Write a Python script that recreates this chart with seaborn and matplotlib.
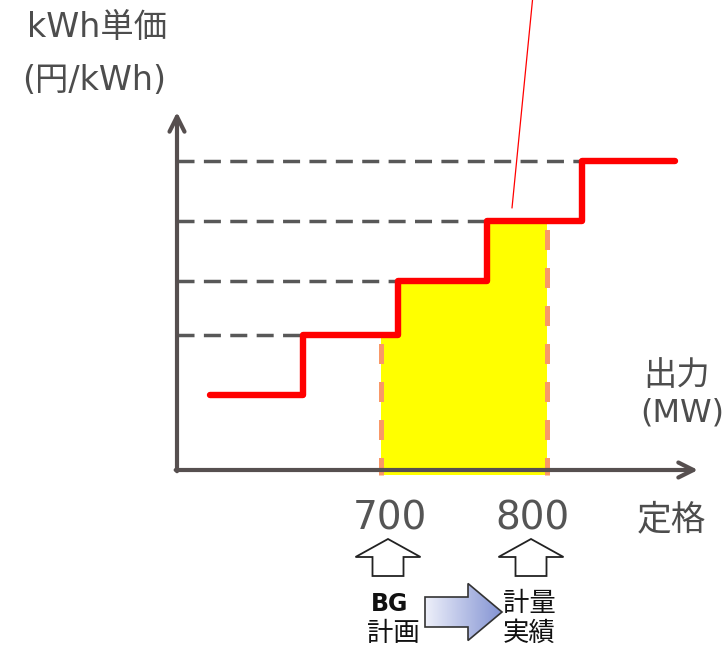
import numpy as np
import matplotlib
matplotlib.use("Agg")
import matplotlib.pyplot as plt
from matplotlib.patches import FancyArrow
import seaborn as sns

# Supply curve: output breakpoints (MW) and the unit price of each band
step_mw = [597, 653, 710, 764, 821, 877]
unit_price = [1.25, 2.25, 3.15, 4.15, 5.15]
plan_mw = 700      # BG plan
actual_mw = 800    # metered result
tick_labels = ["700", "800"]

sns.set_theme(style="white")
plt.rcParams["font.family"] = ["DejaVu Sans", "Noto Sans CJK JP"]

W, H = 728, 651
fig = plt.figure(figsize=(W / 100, H / 100), dpi=100)
ax = fig.add_axes([0, 0, 1, 1])
ax.set_axis_off()

# pixel-like frame: 1.66 px per MW, 60 px per price unit
MW_PER_PX = 1 / 1.66
PRICE_PER_PX = 1 / 60
X0_PX, Y0_PX = 381, 470
def to_data(px, py):
    return plan_mw + (px - X0_PX) * MW_PER_PX, (Y0_PX - py) * PRICE_PER_PX

xmin, ymax = to_data(0, 0)
xmax, ymin = to_data(W, H)
ax.set_xlim(xmin, xmax)
ax.set_ylim(ymin, ymax)

axis_x0 = to_data(177, 0)[0]
axis_col = "#564f4f"
guide_col = "#585858"

def price_at(mw):
    i = np.searchsorted(step_mw, mw, side="right") - 1
    return unit_price[min(max(i, 0), len(unit_price) - 1)]

# yellow area between plan and metered output
fill_x = [plan_mw] + [b for b in step_mw if plan_mw < b < actual_mw] + [actual_mw]
fill_y = [price_at(x) for x in fill_x]
ax.fill_between(fill_x, -0.08, fill_y, step="post", color="#ffff00", lw=0, zorder=1)

# horizontal dashed guides from the price axis to each step
for i in range(1, len(unit_price)):
    ax.plot([axis_x0, step_mw[i]], [unit_price[i]] * 2, color=guide_col, lw=2.5,
            linestyle=(0, (4.9, 2.7)), zorder=2)

# salmon dashed verticals at plan and metered output
for mw in (plan_mw, actual_mw):
    ax.plot([mw, mw], [-0.08, price_at(mw) - 0.05], color="#f99868", lw=3.6,
            linestyle=(0.5, (4.0, 3.6)), zorder=3)

# step curve
curve_x = step_mw
curve_y = unit_price + [unit_price[-1]]
sns.lineplot(x=curve_x, y=curve_y, drawstyle="steps-post", color="#ff0000",
             linewidth=4.6, sort=False, estimator=None, ax=ax, zorder=4)

# leader line going off the top
lx0, ly0 = to_data(512, 208)
lx1, ly1 = to_data(533, -5)
ax.plot([lx0, lx1], [ly0, ly1], color="#ff0000", lw=0.9, zorder=4)

# axes with open arrow heads
ytip = to_data(177, 112)[1]
xtip = to_data(698, 470)[0]
head = dict(arrowstyle="->,head_length=0.9,head_width=0.45",
            lw=3, color=axis_col, shrinkA=0, shrinkB=0)
ax.annotate("", xy=(axis_x0, ytip), xytext=(axis_x0, -0.02), arrowprops=head, zorder=5)
ax.annotate("", xy=(xtip, 0), xytext=(axis_x0 - 0.8, 0), arrowprops=head, zorder=5)

# text labels
def ptext(px, py, s, size, color="#4d4d4d", weight="normal"):
    fig.text(px / W, 1 - py / H, s, ha="center", va="center", fontsize=size,
             color=color, fontweight=weight)

ptext(97, 27, "kWh単価", 24)
ptext(94, 80, "(円/kWh)", 24)
ptext(677, 376, "出力", 24)
ptext(682, 413, "(MW)", 23)
ptext(671, 519, "定格", 25)
ptext(390, 519, tick_labels[0], 28, color="#555555")
ptext(532, 519, tick_labels[1], 28, color="#555555")
ptext(390, 604, "BG", 17, color="#111111", weight="bold")
ptext(393, 634, "計画", 19, color="#111111")
ptext(529, 604, "計量", 19, color="#111111")
ptext(529, 634, "実績", 19, color="#111111")

# hollow up arrows under the two output values
for cx_px in (388, 531):
    cx, yb = to_data(cx_px, 576)
    _, yt = to_data(cx_px, 539)
    ax.add_patch(FancyArrow(cx, yb, 0, yt - yb, width=31 * MW_PER_PX,
                            head_width=65 * MW_PER_PX, head_length=18 * PRICE_PER_PX,
                            length_includes_head=True, facecolor="white",
                            edgecolor="#222222", lw=1.3, zorder=5))

# block arrow from plan to metered, with a soft blue gradient
bx0, by = to_data(425, 612)
bx1, _ = to_data(502, 612)
block = FancyArrow(bx0, by, bx1 - bx0, 0, width=30 * PRICE_PER_PX,
                   head_width=57 * PRICE_PER_PX, head_length=34 * MW_PER_PX,
                   length_includes_head=True, facecolor="none",
                   edgecolor="#333333", lw=1.2, zorder=6)
ax.add_patch(block)
grad = np.linspace(0, 1, 256).reshape(1, -1)
cmap = matplotlib.colors.LinearSegmentedColormap.from_list("bl", ["#eef0fa", "#8393d3"])
img = ax.imshow(grad, cmap=cmap, aspect="auto", zorder=5,
                extent=[bx0, bx1, by - 30 * PRICE_PER_PX, by + 30 * PRICE_PER_PX])
img.set_clip_path(block)
ax.set_xlim(xmin, xmax)
ax.set_ylim(ymin, ymax)

fig.savefig("out.png", dpi=100)
